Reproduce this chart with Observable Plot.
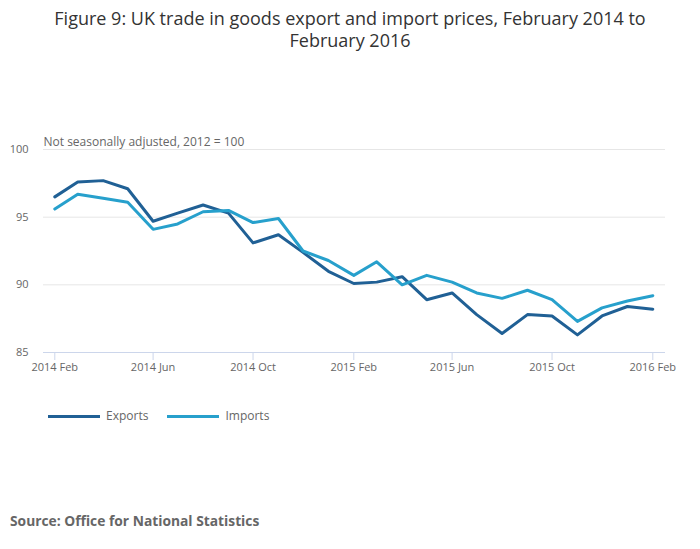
<!DOCTYPE html>
<html>
<head>
<meta charset="utf-8">
<script src="https://cdn.jsdelivr.net/npm/d3@7"></script>
<script src="https://cdn.jsdelivr.net/npm/@observablehq/plot@0.6"></script>
<style>
  body { margin: 0; background: #fff; font-family: "Open Sans", sans-serif; }
  #wrap { position: relative; width: 700px; height: 549px; overflow: hidden; }
  #title { position: absolute; top: 7px; left: 0; width: 700px; text-align: center; font-size: 18px; line-height: 22px; color: #333; }
  #chart { position: absolute; top: 90px; left: 0; }
  #legend { position: absolute; top: 408px; left: 48px; font-size: 12px; line-height: 16px; color: #666; display: flex; }
  .item { display: flex; align-items: center; margin-right: 19px; }
  .sw { display: inline-block; width: 52px; height: 3px; margin-right: 6px; }
  #source { position: absolute; top: 511px; left: 10px; font-size: 13.8px; line-height: 20px; font-weight: bold; color: #666; }
</style>
</head>
<body>
<div id="wrap">
  <div id="title">Figure 9: UK trade in goods export and import prices, February 2014 to<br>February 2016</div>
  <div id="chart"></div>
  <div id="legend"></div>
  <div id="source">Source: Office for National Statistics</div>
</div>
<script>
const months = ["2014-02","2014-03","2014-04","2014-05","2014-06","2014-07","2014-08","2014-09","2014-10","2014-11","2014-12",
  "2015-01","2015-02","2015-03","2015-04","2015-05","2015-06","2015-07","2015-08","2015-09","2015-10","2015-11","2015-12",
  "2016-01","2016-02"];
const exportsIdx = [96.5, 97.6, 97.7, 97.1, 94.7, 95.3, 95.9, 95.3, 93.1, 93.7, 92.4, 91.0, 90.1,
  90.2, 90.6, 88.9, 89.4, 87.8, 86.4, 87.8, 87.7, 86.3, 87.7, 88.4, 88.2];
const importsIdx = [95.6, 96.7, 96.4, 96.1, 94.1, 94.5, 95.4, 95.5, 94.6, 94.9, 92.5, 91.8, 90.7,
  91.7, 90.0, 90.7, 90.2, 89.4, 89.0, 89.6, 88.9, 87.3, 88.3, 88.8, 89.2];
const seriesNames = ["Exports", "Imports"];
const seriesColors = ["#206095", "#27a0cc"];
const yTicks = [85, 90, 95, 100];
const xTickMonths = ["2014-02","2014-06","2014-10","2015-02","2015-06","2015-10","2016-02"];
const subtitle = "Not seasonally adjusted, 2012 = 100";

const parse = d3.utcParse("%Y-%m");
const data = [];
months.forEach((m, i) => {
  data.push({date: parse(m), value: exportsIdx[i], series: seriesNames[0]});
  data.push({date: parse(m), value: importsIdx[i], series: seriesNames[1]});
});

const plot = Plot.plot({
  width: 700,
  height: 300,
  marginLeft: 43,
  marginRight: 35,
  marginTop: 59,
  marginBottom: 38,
  style: {fontFamily: "Open Sans, sans-serif", fontSize: "11px", color: "#666", background: "transparent"},
  x: {type: "utc", domain: [parse(months[0]), parse(months[months.length - 1])], range: [54.3, 652.3]},
  y: {domain: [85, 100]},
  color: {domain: seriesNames, range: seriesColors},
  marks: [
    Plot.ruleY(yTicks.filter(d => d !== 85), {stroke: "#e6e6e6", strokeWidth: 1}),
    Plot.ruleY([85], {stroke: "#ccd6eb", strokeWidth: 1}),
    Plot.axisY({ticks: yTicks, tickSize: 0, tickPadding: 15, fontSize: 11, fill: "#666", label: null}),
    Plot.axisX({ticks: xTickMonths.map(parse), tickFormat: d3.utcFormat("%Y %b"), tickSize: 8, tickPadding: 3, stroke: "#ccd6eb", fill: "#666", fontSize: 11, label: null}),
    Plot.line(data, {x: "date", y: "value", stroke: "series", strokeWidth: 3, strokeLinejoin: "round"}),
    Plot.text([subtitle], {frameAnchor: "top-left", lineAnchor: "middle", text: d => d, dy: -7, textAnchor: "start", fontSize: 12, fill: "#666"})
  ]
});
document.getElementById("chart").appendChild(plot);

const legend = document.getElementById("legend");
seriesNames.forEach((name, i) => {
  const item = document.createElement("div");
  item.className = "item";
  const sw = document.createElement("span");
  sw.className = "sw";
  sw.style.background = seriesColors[i];
  item.appendChild(sw);
  item.appendChild(document.createTextNode(name));
  legend.appendChild(item);
});
</script>
</body>
</html>
